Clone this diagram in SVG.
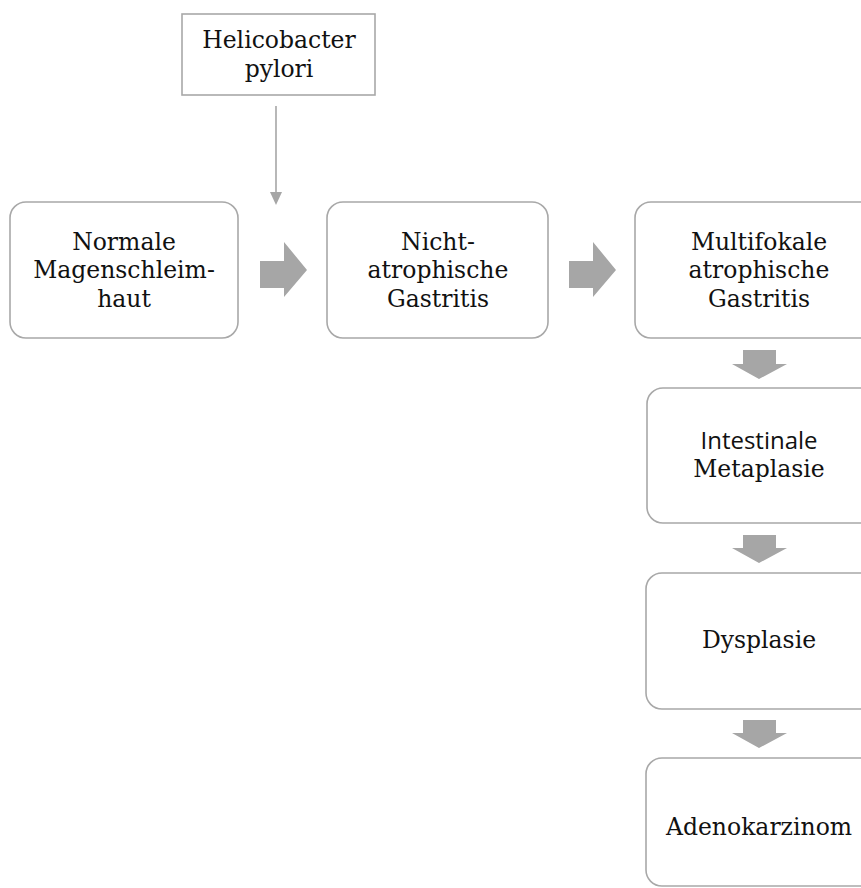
<svg xmlns="http://www.w3.org/2000/svg" width="861" height="888" viewBox="0 0 861 888">
<style>
.box{fill:#fff;stroke:#a8a8a8;stroke-width:1.6}
.blk{fill:#a6a6a6}
.t{font-family:"DejaVu Serif","Liberation Serif",serif;font-size:23.5px;fill:#111;text-anchor:middle}
.s{font-family:"Open Sans","DejaVu Sans",sans-serif;font-size:24px;fill:#111;text-anchor:middle}
</style>
<defs>
<marker id="ah" markerWidth="14" markerHeight="12" refX="2" refY="6" orient="auto" markerUnits="userSpaceOnUse">
<path d="M0,0 L13,6 L0,12 Z" fill="#a6a6a6"/>
</marker>
</defs>
<rect width="861" height="888" fill="#fff"/>
<g id="connectors">
<line x1="276" y1="106" x2="276" y2="194" stroke="#a6a6a6" stroke-width="1.6" marker-end="url(#ah)"/>
<path class="blk" d="M260,261 H284 V242 L307,270 L284,297 V288 H260 Z"/>
<path class="blk" d="M569,261 H593 V242 L616,270 L593,297 V288 H569 Z"/>
<path class="blk" d="M743,350 H776 V364 H787 L759,379 L732,364 H743 Z"/>
<path class="blk" d="M743,535 H776 V548 H787 L759,563 L732,548 H743 Z"/>
<path class="blk" d="M743,720 H776 V733 H787 L759,748 L732,733 H743 Z"/>
</g>
<g id="helicobacter">
<rect x="182" y="14" width="193" height="81" fill="#fff" stroke="#a8a8a8" stroke-width="1.6"/>
<text class="t" x="279" y="48">Helicobacter</text>
<text class="t" x="279" y="77">pylori</text>
</g>
<g id="normale">
<rect class="box" x="10" y="202" width="228" height="136" rx="16"/>
<text class="t" x="124" y="250">Normale</text>
<text class="t" x="124" y="278">Magenschleim-</text>
<text class="t" x="124" y="307">haut</text>
</g>
<g id="nichtatrophisch">
<rect class="box" x="327" y="202" width="221" height="136" rx="16"/>
<text class="t" x="438" y="250">Nicht-</text>
<text class="t" x="438" y="278">atrophische</text>
<text class="t" x="438" y="307">Gastritis</text>
</g>
<g id="multifokal">
<rect class="box" x="635" y="202" width="250" height="136" rx="16"/>
<text class="t" x="759" y="250">Multifokale</text>
<text class="t" x="759" y="278">atrophische</text>
<text class="t" x="759" y="307">Gastritis</text>
</g>
<g id="metaplasie">
<rect class="box" x="647" y="388" width="240" height="135" rx="16"/>
<text class="s" x="759" y="449">Intestinale</text>
<text class="t" x="759" y="477">Metaplasie</text>
</g>
<g id="dysplasie">
<rect class="box" x="646" y="573" width="240" height="136" rx="16"/>
<text class="t" x="759" y="648">Dysplasie</text>
</g>
<g id="adenokarzinom">
<rect class="box" x="646" y="758" width="240" height="128" rx="16"/>
<text class="t" x="759" y="835">Adenokarzinom</text>
</g>
</svg>
